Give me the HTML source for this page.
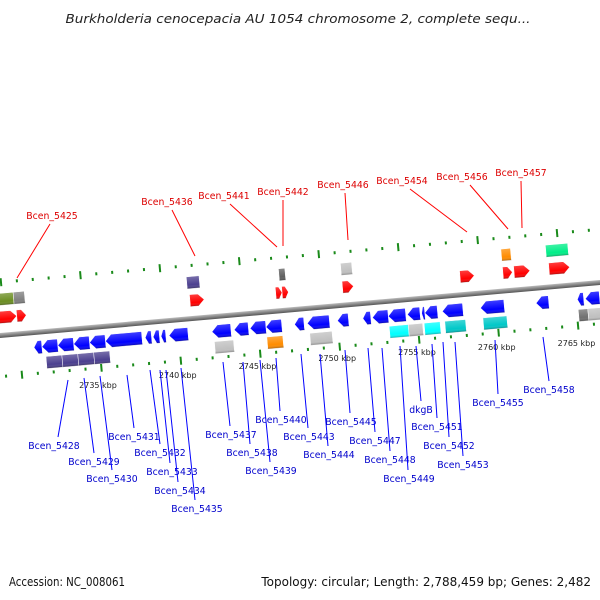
<!DOCTYPE html>
<html><head><meta charset="utf-8">
<style>
html,body{margin:0;padding:0;background:#fff;}
svg{display:block;font-family:"DejaVu Sans","Liberation Sans",sans-serif;}
</style></head>
<body>
<svg id="chart" width="600" height="600" viewBox="0 0 600 600">
<defs>
<linearGradient id="axisg" x1="0" y1="0" x2="0" y2="1"><stop offset="0" stop-color="#bbb"/><stop offset="0.5" stop-color="#888"/><stop offset="1" stop-color="#555"/></linearGradient>
<linearGradient id="shade" x1="0" y1="0" x2="0" y2="1"><stop offset="0" stop-color="#fff" stop-opacity="0.25"/><stop offset="0.7" stop-color="#fff" stop-opacity="0"/><stop offset="1" stop-color="#000" stop-opacity="0.3"/></linearGradient>
</defs>
<text x="298" y="23" text-anchor="middle" font-size="12.5" font-style="italic" fill="#222" textLength="465" lengthAdjust="spacingAndGlyphs">Burkholderia cenocepacia AU 1054 chromosome 2, complete sequ...</text>
<g transform="translate(0,3)"><g id="track" transform="rotate(-5.05 300 306)"></g></g>
<g id="labels"></g>
<text x="9" y="586" font-size="12" fill="#111" textLength="116" lengthAdjust="spacingAndGlyphs">Accession: NC_008061</text>
<text x="591" y="586" font-size="12" fill="#111" text-anchor="end">Topology: circular; Length: 2,788,459 bp; Genes: 2,482</text>
</svg>
<script>
// kbp ranges
const fwdStart = [2728.9,2730.0,2740.9,2746.3,2746.7,2750.5,2757.9,2760.6,2761.3,2763.5];
const fwdEnd   = [2730.0,2730.6,2741.8,2746.7,2747.1,2751.2,2758.8,2761.2,2762.3,2764.8];
const upStart  = [2728.9,2729.9,2740.8,2746.6,2750.5,2760.6,2763.4];
const upEnd    = [2729.9,2730.6,2741.6,2747.0,2751.2,2761.2,2764.8];
const upColor  = ["#6b8e23","#808080","#4b3f8f","#606060","#c0c0c0","#ff8c00","#00ee88"];
const revStart = [2730.9,2731.4,2732.4,2733.4,2734.4,2735.4,2737.9,2738.4,2738.9,2739.4,2742.1,2743.5,2744.5,2745.5,2747.3,2748.1,2750.0,2751.6,2752.2,2753.2,2754.4,2755.3,2755.5,2756.6,2759.0,2762.5,2765.1,2765.6];
const revEnd   = [2731.4,2732.4,2733.4,2734.4,2735.4,2737.7,2738.3,2738.8,2739.2,2740.6,2743.3,2744.4,2745.5,2746.5,2747.9,2749.5,2750.7,2752.1,2753.2,2754.3,2755.2,2755.5,2756.3,2757.9,2760.5,2763.3,2765.5,2766.5];
const lowStart = [2731.6,2732.6,2733.6,2734.6,2742.2,2745.5,2748.2,2753.2,2754.4,2755.4,2756.7,2759.1,2765.1,2765.7];
const lowEnd   = [2732.6,2733.6,2734.6,2735.6,2743.4,2746.5,2749.6,2754.4,2755.3,2756.4,2758.0,2760.6,2765.7,2766.5];
const lowColor = ["#4b3f8f","#4b3f8f","#4b3f8f","#4b3f8f","#c0c0c0","#ff8c00","#c0c0c0","#00ffff","#c0c0c0","#00ffff","#00c8c8","#00c8c8","#707070","#c0c0c0"];
const tickKbp = [2735,2740,2745,2750,2755,2760,2765];
const tickLabels = ["2735 kbp","2740 kbp","2745 kbp","2750 kbp","2755 kbp","2760 kbp","2765 kbp"];
const redNames = ["Bcen_5425","Bcen_5436","Bcen_5441","Bcen_5442","Bcen_5446","Bcen_5454","Bcen_5456","Bcen_5457"];
const blueNames = ["Bcen_5428","Bcen_5429","Bcen_5430","Bcen_5431","Bcen_5432","Bcen_5433","Bcen_5434","Bcen_5435","Bcen_5437","Bcen_5438","Bcen_5439","Bcen_5440","Bcen_5443","Bcen_5444","Bcen_5445","Bcen_5447","Bcen_5448","Bcen_5449","dkgB","Bcen_5451","Bcen_5452","Bcen_5453","Bcen_5455","Bcen_5458"];

const NS="http://www.w3.org/2000/svg";
const x = k => 97 + (k-2735)*15.95;
const AX = 306;
const track=document.getElementById('track');
const labels=document.getElementById('labels');
function mk(tag,attrs,parent){const e=document.createElementNS(NS,tag);for(const a in attrs)e.setAttribute(a,attrs[a]);parent.appendChild(e);return e;}

let axis=mk('rect',{x:-40,y:AX-2.5,width:700,height:5,fill:'url(#axisg)'},track);


for(let k=2726;k<=2770;k++){
  const major=(k%5===0);
  const xt=x(k-0.8), xb=x(k);
  let t1=mk('rect',{x:xt-1,y:AX-53-(major?4:1.5),width:2,height:major?8:3,fill:'#1a8a1a'},track);
  
  
  let t2=mk('rect',{x:xb-1,y:AX+41-(major?4:1.5),width:2,height:major?8:3,fill:'#1a8a1a'},track);
  
  
}
function gene(s,e,cy,h,color,dir,name){
  const x1=x(s),x2=x(e),w=x2-x1,hd=Math.min(6,w*0.5);
  let pts;
  if(dir>0) pts=[[x1,cy-h/2],[x2-hd,cy-h/2],[x2,cy],[x2-hd,cy+h/2],[x1,cy+h/2]];
  else if(dir<0) pts=[[x2,cy-h/2],[x1+hd,cy-h/2],[x1,cy],[x1+hd,cy+h/2],[x2,cy+h/2]];
  else pts=[[x1,cy-h/2],[x2,cy-h/2],[x2,cy+h/2],[x1,cy+h/2]];
  const p=pts.map(q=>q.join(',')).join(' ');
  let g=mk('polygon',{points:p,fill:color,stroke:'#fff','stroke-width':0.5},track);
  
  
  mk('polygon',{points:p,fill:'url(#shade)'},track);
}
fwdStart.forEach((s,i)=>gene(s,fwdEnd[i],AX-18,12,'#ff0000',1,'forward-gene'));
upStart.forEach((s,i)=>gene(s,upEnd[i],AX-36,12,upColor[i],0,'feature-box-top'));
revStart.forEach((s,i)=>gene(s,revEnd[i],AX+15,13,'#0000ff',-1,'reverse-gene'));
lowStart.forEach((s,i)=>gene(s,lowEnd[i],AX+31,12,lowColor[i],0,'feature-box-bottom'));

const kY=[388,378,369,361,355,350,346];
tickKbp.forEach((k,i)=>{
  let t=mk('text',{x:x(k)+1,y:kY[i],'font-size':8,'text-anchor':'middle',fill:'#222'},labels);
  t.textContent=tickLabels[i];
  
  
});
const redPos=[[52,219,50,224,17,278],[167,205,172,210,195,256],[224,199,230,204,277,247],[283,195,283,200,283,246],[343,188,345,193,348,240],[402,184,410,189,467,232],[462,180,470,185,508,229],[521,176,521,181,522,228]];
redNames.forEach((n,i)=>{
  const p=redPos[i];
  let l=mk('line',{x1:p[2],y1:p[3],x2:p[4],y2:p[5],stroke:'#ff0000','stroke-width':1},labels);
  
  
  let t=mk('text',{x:p[0],y:p[1],'font-size':9.3,'text-anchor':'middle',fill:'#dd0000'},labels);
  t.textContent=n;
  
  
});
const bluePos=[[54,449,58,437,68,380],[94,465,94,453,84,378],[112,482,112,470,100,376],[134,440,134,428,127,375],[160,456,160,444,150,370],[172,475,170,463,160,370],[180,494,178,482,166,370],[197,512,195,500,181,368],[231,438,230,426,223,362],[252,456,250,444,243,362],[271,474,270,462,260,360],[281,423,280,411,276,358],[309,440,308,428,301,354],[329,458,328,446,320,354],[351,425,350,413,345,350],[375,444,375,432,368,348],[390,463,390,451,382,348],[409,482,408,470,400,346],[421,413,421,401,416,346],[437,430,437,418,432,344],[449,449,449,437,443,342],[463,468,463,456,455,342],[498,406,498,394,495,340],[549,393,549,381,543,337]];
blueNames.forEach((n,i)=>{
  const p=bluePos[i];
  let l=mk('line',{x1:p[2],y1:p[3],x2:p[4],y2:p[5],stroke:'#0000ff','stroke-width':1},labels);
  
  
  let t=mk('text',{x:p[0],y:p[1],'font-size':9.3,'text-anchor':'middle',fill:'#0000cc'},labels);
  t.textContent=n;
  
  
});
</script>
</body></html>
